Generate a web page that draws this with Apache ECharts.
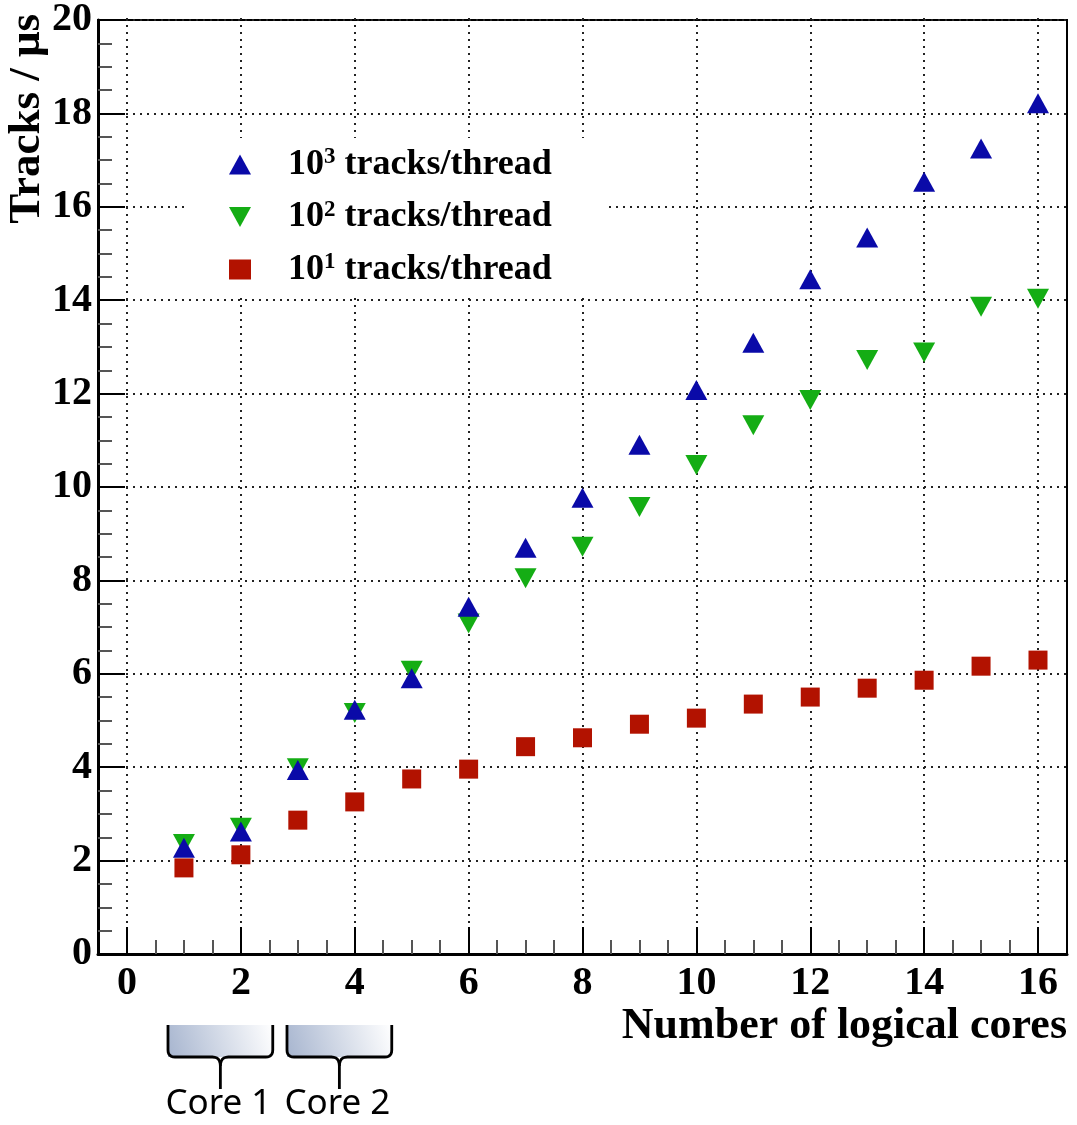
<!DOCTYPE html>
<html><head><meta charset="utf-8">
<script src="https://cdn.jsdelivr.net/npm/echarts@6/dist/echarts.min.js"></script>
<style>html,body{margin:0;padding:0;background:#fff}#c{width:1077px;height:1125px}</style>
</head><body><div id="c"></div>
<script>
// ---- data ----
const cores = [1, 2, 3, 4, 5, 6, 7, 8, 9, 10, 11, 12, 13, 14, 15, 16];
const tracks1e3 = [2.27, 2.62, 3.93, 5.22, 5.89, 7.42, 8.68, 9.75, 10.88, 12.05, 13.06, 14.42, 15.31, 16.50, 17.21, 18.18];
const tracks1e2 = [2.35, 2.70, 3.97, 5.15, 6.05, 7.06, 8.03, 8.70, 9.55, 10.45, 11.30, 11.84, 12.69, 12.85, 13.83, 14.00];
const tracks1e1 = [1.84, 2.12, 2.86, 3.25, 3.74, 3.95, 4.43, 4.62, 4.91, 5.04, 5.34, 5.49, 5.68, 5.85, 6.15, 6.28];
const seriesNames = ['10^3 tracks/thread', '10^2 tracks/thread', '10^1 tracks/thread'];
const xTitle = 'Number of logical cores';
const yTitle = 'Tracks / μs';
const coreLabels = ['Core 1', 'Core 2'];
const coreSpans = [[0.72, 2.56], [2.81, 4.65]];

const serif = '"Liberation Serif", "DejaVu Serif", serif';
const chart = echarts.init(document.getElementById('c'), null, {renderer: 'canvas'});

function pairs(ys) { return cores.map((c, i) => [c, ys[i]]); }
const dotted = {type: [2, 5], color: '#222', width: 2};
const downTriangle = 'path://M0,0 L22,0 L11,20 Z';

const option = {
  animation: false,
  backgroundColor: '#fff',
  grid: [
    {left: 98, right: 10, top: 18, bottom: 171, show: true, borderColor: '#000', borderWidth: 2, backgroundColor: 'transparent'},
    {left: 127, right: 39, top: 18, bottom: 171}
  ],
  xAxis: [
    {gridIndex: 0, type: 'value', min: -0.5, max: 16.5,
     axisLine: {show: true, onZero: false, lineStyle: {color: '#000', width: 3}},
     axisTick: {show: false}, axisLabel: {show: false}, splitLine: {show: false},
     name: xTitle, nameLocation: 'end', nameGap: 0,
     nameTextStyle: {fontFamily: serif, fontWeight: 'bold', fontSize: 44, color: '#000', align: 'right', verticalAlign: 'top', padding: [51, 0, 0, 0]}},
    {gridIndex: 1, type: 'value', min: 0, max: 16, interval: 2,
     axisLine: {show: false, onZero: false},
     axisTick: {show: true, inside: true, length: 27, lineStyle: {color: '#000', width: 2}},
     minorTick: {show: true, splitNumber: 4, length: 14, lineStyle: {color: '#555', width: 2}},
     axisLabel: {fontFamily: serif, fontWeight: 'bold', fontSize: 40, color: '#000', margin: 10},
     splitLine: {show: true, lineStyle: dotted}}
  ],
  yAxis: [
    {gridIndex: 0, type: 'value', min: 0, max: 20, interval: 2,
     axisLine: {show: true, onZero: false, lineStyle: {color: '#000', width: 3}},
     axisTick: {show: true, inside: true, length: 27, lineStyle: {color: '#000', width: 2}},
     minorTick: {show: true, splitNumber: 4, length: 14, lineStyle: {color: '#555', width: 2}},
     axisLabel: {fontFamily: serif, fontWeight: 'bold', fontSize: 40, color: '#000', margin: 6},
     splitLine: {show: true, lineStyle: dotted}},
    {gridIndex: 1, type: 'value', min: 0, max: 20, show: false}
  ],
  legend: {
    orient: 'vertical', left: 185, top: 138,
    padding: [8, 54, 8, 44], itemWidth: 22, itemHeight: 20, itemGap: 16,
    backgroundColor: '#fff', selectedMode: false,
    data: [
      {name: seriesNames[0], icon: 'triangle'},
      {name: seriesNames[1], icon: downTriangle},
      {name: seriesNames[2], icon: 'rect'}
    ],
    formatter: function (name) {
      const m = name.match(/^(\d+)\^(\d+)(.*)$/);
      return '{f|' + m[1] + '}{s|' + m[2] + '}{n|' + m[3] + '}';
    },
    textStyle: {
      fontFamily: serif, fontWeight: 'bold', fontSize: 36, color: '#000',
      rich: {
        f: {fontFamily: serif, fontWeight: 'bold', fontSize: 36, lineHeight: 37, color: '#000', padding: [0, 0, 0, 32]},
        n: {fontFamily: serif, fontWeight: 'bold', fontSize: 36, lineHeight: 37, color: '#000'},
        s: {fontFamily: serif, fontWeight: 'bold', fontSize: 23, lineHeight: 22, color: '#000', verticalAlign: 'top'}
      }
    }
  },
  series: [
    {name: seriesNames[1], type: 'scatter', xAxisIndex: 1, yAxisIndex: 1, data: pairs(tracks1e2),
     symbol: 'triangle', symbolRotate: 180, symbolSize: [22, 20], itemStyle: {color: '#14ad14', opacity: 1}, z: 2, silent: true},
    {name: seriesNames[0], type: 'scatter', xAxisIndex: 1, yAxisIndex: 1, data: pairs(tracks1e3),
     symbol: 'triangle', symbolSize: [22, 20], itemStyle: {color: '#0a0aa8', opacity: 1}, z: 3, silent: true},
    {name: seriesNames[2], type: 'scatter', xAxisIndex: 1, yAxisIndex: 1, data: pairs(tracks1e1),
     symbol: 'rect', symbolSize: 19, itemStyle: {color: '#b21200', opacity: 1}, z: 4, silent: true}
  ]
};
chart.setOption(option);

// ---- annotations: y title and core brackets ----
function quad(p0, c, p2, n) {
  const pts = [];
  for (let k = 1; k <= n; k++) {
    const t = k / n, u = 1 - t;
    pts.push([u * u * p0[0] + 2 * u * t * c[0] + t * t * p2[0], u * u * p0[1] + 2 * u * t * c[1] + t * t * p2[1]]);
  }
  return pts;
}
const graphics = [
  {type: 'text', x: 27, y: 14, rotation: Math.PI / 2,
   style: {text: yTitle, fontFamily: serif, fontWeight: 'bold', fontSize: 45, fill: '#000', align: 'right', verticalAlign: 'middle'}}
];
const brTop = 1025, brBase = 1057, stemEnd = 1089, labelY = 1104;
coreSpans.forEach((span, i) => {
  const x0 = chart.convertToPixel({xAxisIndex: 1}, span[0]);
  const x1 = chart.convertToPixel({xAxisIndex: 1}, span[1]);
  const xm = (x0 + x1) / 2;
  graphics.push({
    type: 'rect', shape: {x: x0, y: brTop, width: x1 - x0, height: brBase - brTop},
    style: {fill: {type: 'linear', x: 0, y: 1, x2: 1, y2: 0, colorStops: [{offset: 0, color: '#a7b5cf'}, {offset: 1, color: '#ffffff'}]}}, silent: true
  });
  let left = [[x0, brTop], [x0, brBase - 7]];
  left = left.concat(quad([x0, brBase - 7], [x0, brBase], [x0 + 7, brBase], 6));
  left.push([xm - 8, brBase]);
  left = left.concat(quad([xm - 8, brBase], [xm, brBase], [xm, brBase + 9], 6));
  left.push([xm, stemEnd]);
  let right = [[xm, brBase + 9]];
  right = right.concat(quad([xm, brBase + 9], [xm, brBase], [xm + 8, brBase], 6));
  right.push([x1 - 7, brBase]);
  right = right.concat(quad([x1 - 7, brBase], [x1, brBase], [x1, brBase - 7], 6));
  right.push([x1, brTop]);
  graphics.push({type: 'polyline', shape: {points: left}, style: {fill: null, stroke: '#000', lineWidth: 2.8}, silent: true});
  graphics.push({type: 'polyline', shape: {points: right}, style: {fill: null, stroke: '#000', lineWidth: 2.8}, silent: true});
  graphics.push({type: 'text', x: xm - 2, y: labelY,
    style: {text: coreLabels[i], fontFamily: '"Noto Sans", "Liberation Sans", sans-serif', fontSize: 35, fill: '#000', align: 'center', verticalAlign: 'middle'}});
});
chart.setOption({graphic: graphics});
</script>
</body></html>
